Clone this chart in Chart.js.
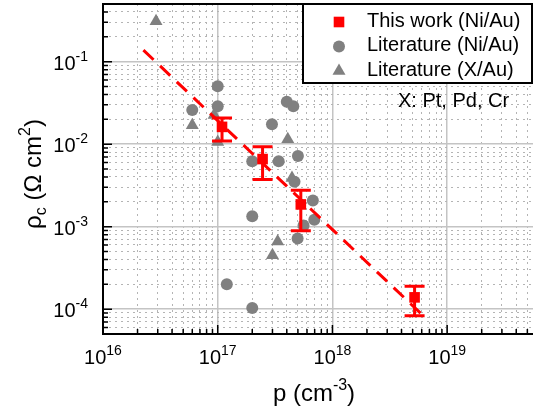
<!DOCTYPE html>
<html>
<head>
<meta charset="utf-8">
<script src="https://cdn.jsdelivr.net/npm/chart.js@4.4.0/dist/chart.umd.min.js"></script>
<style>
  html, body { margin: 0; padding: 0; background: #fff; }
</style>
</head>
<body>
<canvas id="chart" width="533" height="416"></canvas>
<script>
// values: p in cm^-3, rho_c in Ohm cm^2
const workP = [1.09e17, 2.46e17, 5.3e17, 5.2e18];
const workRho = [0.0162, 0.0066, 0.00186, 1.39e-4];
const workRhoLow = [0.0109, 0.00373, 0.00089, 8.3e-5];
const workRhoHigh = [0.0207, 0.0093, 0.00277, 1.9e-4];

const niAuP = [6.0e16, 1.0e17, 1.0e17, 2.97e17, 4.0e17, 4.56e17, 2.0e17, 3.4e17, 5.0e17,
  4.67e17, 6.75e17, 6.95e17, 5.6e17, 4.97e17, 2.0e17, 1.2e17, 2.0e17];
const niAuRho = [0.0259, 0.0505, 0.0289, 0.0174, 0.0326, 0.0289, 0.0062, 0.0062, 0.0072,
  0.0035, 0.00207, 0.00121, 0.00103, 0.00072, 0.00134, 2.0e-4, 1.03e-4];

const xAuP = [2.9e16, 6.0e16, 9.3e16, 1.0e17, 4.08e17, 4.44e17, 3.33e17, 3.0e17];
const xAuRho = [0.31, 0.017, 0.0225, 0.0106, 0.0115, 0.0039, 6.6e-4, 4.5e-4];

// dashed guide line, end points
const fitP = [2.25e16, 6.2e18];
const fitRho = [0.138, 8.3e-5];

const xDecades = [1e16, 1e17, 1e18, 1e19];
const yDecades = [1e-4, 1e-3, 1e-2, 1e-1];
const xTickExp = ['16', '17', '18', '19'];
const yTickExp = ['-4', '-3', '-2', '-1'];
const legendLabels = ['This work (Ni/Au)', 'Literature (Ni/Au)', 'Literature (X/Au)'];
const noteText = 'X: Pt, Pd, Cr';

const X_MIN = 1e16, X_MAX = 5.6e19;
const Y_MIN = 5e-5, Y_MAX = 0.5;

const RED = '#ff0000';
const GREY = '#808080';
const FONT = '"Liberation Sans", Arial, sans-serif';

const toPts = (xs, ys) => xs.map((x, i) => ({ x: x, y: ys[i] }));

// minor positions 2..9 inside each decade
function minorValues(decades, lo, hi) {
  const out = [];
  [decades[0] / 10].concat(decades).forEach(d => {
    for (let k = 2; k <= 9; k++) {
      const v = k * d;
      if (v >= lo * 0.999 && v <= hi * 1.001) out.push(v);
    }
  });
  return out;
}
const xMinor = minorValues(xDecades, X_MIN, X_MAX);
const yMinor = minorValues(yDecades, Y_MIN, Y_MAX);

function drawRuns(ctx, runs, x, y, align) {
  let total = 0;
  runs.forEach(r => {
    ctx.font = r.size + 'px ' + FONT;
    r.w = ctx.measureText(r.t).width;
    total += r.w;
  });
  let cx = align === 'center' ? x - total / 2 : (align === 'right' ? x - total : x);
  runs.forEach(r => {
    ctx.font = r.size + 'px ' + FONT;
    ctx.fillText(r.t, cx, y + (r.dy || 0));
    cx += r.w;
  });
}

const decor = {
  id: 'decor',
  afterDatasetsDraw(chart) {
    const ctx = chart.ctx;
    const xs = chart.scales.x, ys = chart.scales.y;
    ctx.save();
    ctx.strokeStyle = RED;
    ctx.lineWidth = 3;
    workP.forEach((p, i) => {
      const px = xs.getPixelForValue(p);
      const yl = ys.getPixelForValue(workRhoLow[i]);
      const yh = ys.getPixelForValue(workRhoHigh[i]);
      ctx.beginPath();
      ctx.moveTo(px, yh); ctx.lineTo(px, yl);
      ctx.moveTo(px - 10, yh); ctx.lineTo(px + 10, yh);
      ctx.moveTo(px - 10, yl); ctx.lineTo(px + 10, yl);
      ctx.stroke();
    });
    ctx.restore();
  },
  afterDraw(chart) {
    const ctx = chart.ctx;
    const a = chart.chartArea;
    const xs = chart.scales.x, ys = chart.scales.y;
    ctx.save();

    // axes frame
    ctx.strokeStyle = '#000';
    ctx.lineWidth = 2;
    ctx.beginPath();
    ctx.moveTo(a.right, a.top); ctx.lineTo(a.left, a.top);
    ctx.lineTo(a.left, a.bottom); ctx.lineTo(a.right, a.bottom);
    ctx.stroke();

    // inward ticks
    ctx.lineWidth = 1.5;
    ctx.beginPath();
    xDecades.forEach(v => { const p = xs.getPixelForValue(v); ctx.moveTo(p, a.bottom); ctx.lineTo(p, a.bottom - 9); });
    xMinor.forEach(v => { const p = xs.getPixelForValue(v); ctx.moveTo(p, a.bottom); ctx.lineTo(p, a.bottom - 5); });
    yDecades.forEach(v => { const p = ys.getPixelForValue(v); ctx.moveTo(a.left, p); ctx.lineTo(a.left + 9, p); });
    yMinor.forEach(v => { const p = ys.getPixelForValue(v); ctx.moveTo(a.left, p); ctx.lineTo(a.left + 5, p); });
    ctx.stroke();

    // tick labels 10^n
    ctx.fillStyle = '#000';
    ctx.textBaseline = 'alphabetic';
    ctx.textAlign = 'left';
    xDecades.forEach((v, i) => {
      drawRuns(ctx, [{ t: '10', size: 20 }, { t: xTickExp[i], size: 14, dy: -9 }],
        xs.getPixelForValue(v), a.bottom + 30, 'center');
    });
    yDecades.forEach((v, i) => {
      drawRuns(ctx, [{ t: '10', size: 20 }, { t: yTickExp[i], size: 14, dy: -9 }],
        a.left - 15, ys.getPixelForValue(v) + 8, 'right');
    });

    // axis titles
    drawRuns(ctx, [{ t: 'p (cm', size: 24 }, { t: '-3', size: 16, dy: -11 }, { t: ')', size: 24 }],
      (a.left + a.right) / 2 - 4, a.bottom + 67, 'center');
    ctx.save();
    ctx.translate(41, (a.top + a.bottom) / 2 + 5);
    ctx.rotate(-Math.PI / 2);
    drawRuns(ctx, [{ t: '\u03c1', size: 24 }, { t: 'c', size: 16, dy: 5 }, { t: ' (\u03a9 cm', size: 24 },
      { t: '2', size: 16, dy: -11 }, { t: ')', size: 24 }], 0, 0, 'center');
    ctx.restore();

    // legend box
    const lx = a.right - 230, ly = a.top, lw = 229, lh = 79;
    ctx.fillStyle = '#fff';
    ctx.fillRect(lx, ly, lw, lh);
    ctx.strokeStyle = '#000';
    ctx.lineWidth = 2;
    ctx.strokeRect(lx, ly, lw, lh);
    const styles = [
      { pointStyle: 'rect', radius: 7.5, color: RED },
      { pointStyle: 'circle', radius: 6, color: GREY },
      { pointStyle: 'triangle', radius: 7.5, color: GREY }
    ];
    ctx.font = '20px ' + FONT;
    ctx.textBaseline = 'middle';
    styles.forEach((s, i) => {
      const ry = ly + 17 + i * 24.5;
      ctx.fillStyle = s.color;
      Chart.helpers.drawPoint(ctx, { pointStyle: s.pointStyle, radius: s.radius, rotation: 0, borderWidth: 0 }, lx + 36, ry + 1);
      ctx.fillStyle = '#000';
      ctx.fillText(legendLabels[i], lx + 64, ry);
    });
    ctx.fillText(noteText, lx + 95, ly + 97);
    ctx.restore();
  }
};

const majorGrid = { color: '#c4c4c4', lineWidth: 1.5, drawTicks: false };
const minorGrid = { color: '#b4b4b4', lineWidth: 1, drawTicks: false };

new Chart(document.getElementById('chart'), {
  type: 'scatter',
  data: {
    datasets: [
      {
        label: legendLabels[0],
        data: toPts(workP, workRho),
        pointStyle: 'rect',
        pointRadius: 7.5,
        backgroundColor: RED,
        borderWidth: 0,
        order: 0
      },
      {
        label: 'fit',
        data: toPts(fitP, fitRho),
        showLine: true,
        borderColor: RED,
        borderWidth: 3,
        borderDash: [14, 9],
        pointRadius: 0,
        order: 1
      },
      {
        label: legendLabels[1],
        data: toPts(niAuP, niAuRho),
        pointStyle: 'circle',
        pointRadius: 6,
        backgroundColor: GREY,
        borderWidth: 0,
        order: 2
      },
      {
        label: legendLabels[2],
        data: toPts(xAuP, xAuRho),
        pointStyle: 'triangle',
        pointRadius: 7.5,
        backgroundColor: GREY,
        borderWidth: 0,
        order: 3
      }
    ]
  },
  options: {
    responsive: false,
    animation: false,
    events: [],
    layout: { autoPadding: false, padding: { left: 103, right: 0, top: 4, bottom: 82 } },
    plugins: { legend: { display: false }, tooltip: { enabled: false } },
    scales: {
      x: {
        type: 'logarithmic', min: X_MIN, max: X_MAX,
        ticks: { display: false },
        grid: majorGrid,
        border: { display: false },
        afterBuildTicks: s => { s.ticks = xDecades.map(v => ({ value: v, major: true })); }
      },
      xm: {
        type: 'logarithmic', axis: 'x', position: 'bottom', min: X_MIN, max: X_MAX,
        ticks: { display: false },
        grid: minorGrid,
        border: { display: false, dash: [2, 4] },
        afterBuildTicks: s => { s.ticks = xMinor.map(v => ({ value: v })); }
      },
      y: {
        type: 'logarithmic', min: Y_MIN, max: Y_MAX,
        ticks: { display: false },
        grid: majorGrid,
        border: { display: false },
        afterBuildTicks: s => { s.ticks = yDecades.map(v => ({ value: v, major: true })); }
      },
      ym: {
        type: 'logarithmic', axis: 'y', position: 'left', min: Y_MIN, max: Y_MAX,
        ticks: { display: false },
        grid: minorGrid,
        border: { display: false, dash: [2, 4] },
        afterBuildTicks: s => { s.ticks = yMinor.map(v => ({ value: v })); }
      }
    }
  },
  plugins: [decor]
});
</script>
</body>
</html>
